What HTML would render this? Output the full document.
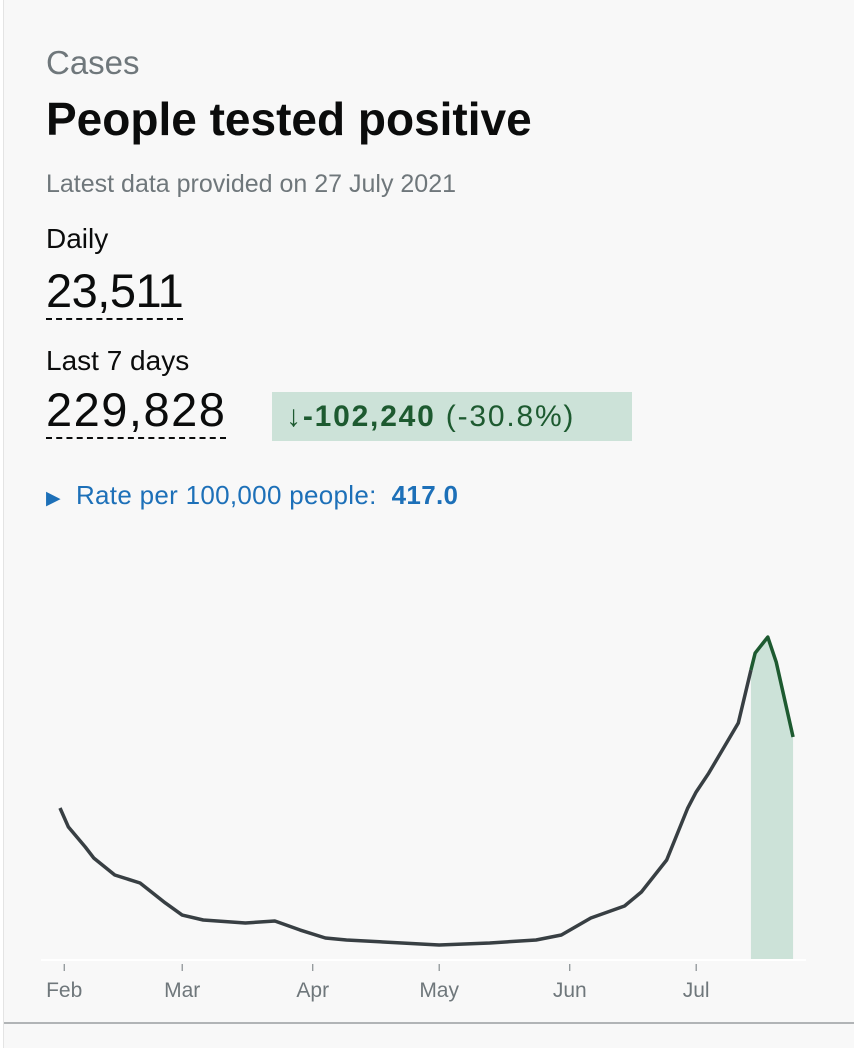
<!DOCTYPE html>
<html><head><meta charset="utf-8"><style>
body{margin:0;width:854px;height:1048px;background:#fff;font-family:"Liberation Sans",sans-serif;overflow:hidden}
#card{position:absolute;left:3px;top:0;width:851px;height:1048px;background:#f8f8f8;border-left:1px solid #e4e4e4}
.t{position:absolute;white-space:nowrap}
.num{font-size:47px;color:#0b0c0c;border-bottom:2px dashed #0b0c0c;line-height:50px;padding-bottom:2px}
</style></head><body>
<div id="card">
<div class="t" style="left:42px;top:44px;font-size:33px;color:#6f777b">Cases</div>
<div class="t" style="left:42px;top:92px;font-size:46px;font-weight:bold;color:#0b0c0c">People tested positive</div>
<div class="t" style="left:42px;top:170px;font-size:25px;color:#6f777b">Latest data provided on 27 July 2021</div>
<div class="t" style="left:42px;top:223px;font-size:28px;color:#0b0c0c">Daily</div>
<div class="t num" style="left:42px;top:266px;letter-spacing:-0.5px">23,511</div>
<div class="t" style="left:42px;top:345px;font-size:28px;color:#0b0c0c">Last 7 days</div>
<div class="t num" style="left:42px;top:385px;letter-spacing:1.5px">229,828</div>
<div class="t" style="left:268px;top:392px;width:360px;height:49px;background:#cce2d8;color:#1d5a30;font-size:30px;line-height:49px;padding-left:14px;box-sizing:border-box;letter-spacing:1.8px"><span>↓</span><b>-102,240</b> (-30.8%)</div>
<div class="t" style="left:42px;top:480px;font-size:26px;color:#1d70b8;letter-spacing:0.3px"><span style="font-size:19px">▶</span>&nbsp; Rate per 100,000 people:&nbsp; <b>417.0</b></div>
<svg id="chart" style="position:absolute;left:-3px;top:0" width="854" height="1048"></svg>
<div style="position:absolute;left:0;top:1022px;width:851px;height:2px;background:#b1b4b6"></div>
</div>
<script>
const days=[0,2,6,8,13,19,25,29,34,44,51,57,63,68,90,102,113,119,126,134,138,144,149,151,154,161,164,165,168,170,174];
const values=[25170,22000,18670,16840,14000,12670,9340,7330,6500,6000,6330,4830,3500,3170,2330,2670,3170,4000,6830,8830,11170,16500,25170,27840,31000,39340,48170,51000,53670,49500,37000];
const tickLabels=["Feb","Mar","Apr","May","Jun","Jul"];
const tickDays=[1,29,60,90,121,151];
const highlightStart=164;
const NS="http://www.w3.org/2000/svg";
const svg=document.getElementById('chart');
const X=d=>59+d*4.213;
const Y=v=>959-v/166.7;
function mk(t,a){const e=document.createElementNS(NS,t);for(const k in a)e.setAttribute(k,a[k]);svg.appendChild(e);return e;}
const base=mk('line',{x1:40,x2:805,y1:960,y2:960,stroke:'#fff','stroke-width':2});


const hi=[];days.forEach((d,i)=>{if(d>=highlightStart)hi.push([X(d),Y(values[i])]);});
const area=mk('path',{d:'M'+hi[0][0]+',959 '+hi.map(p=>'L'+p[0]+','+p[1]).join(' ')+' L'+hi[hi.length-1][0]+',959 Z',fill:'#cce2d8'});


const lo=[];days.forEach((d,i)=>{if(d<=highlightStart)lo.push(X(d)+','+Y(values[i]));});
const l1=mk('polyline',{points:lo.join(' '),fill:'none',stroke:'#383f43','stroke-width':3.5,'stroke-linejoin':'round'});


const l2=mk('polyline',{points:hi.map(p=>p.join(',')).join(' '),fill:'none',stroke:'#1d5a30','stroke-width':3.5,'stroke-linejoin':'round'});


tickDays.forEach((d,i)=>{
 const tk=mk('line',{x1:X(d),x2:X(d),y1:964,y2:971,stroke:'#6f777b','stroke-width':1});
 
 
 const tx=mk('text',{x:X(d),y:997,'text-anchor':'middle','font-size':21,fill:'#6f777b','font-family':'Liberation Sans, sans-serif'});
 tx.textContent=tickLabels[i];
 
 
});
</script>
</body></html>
